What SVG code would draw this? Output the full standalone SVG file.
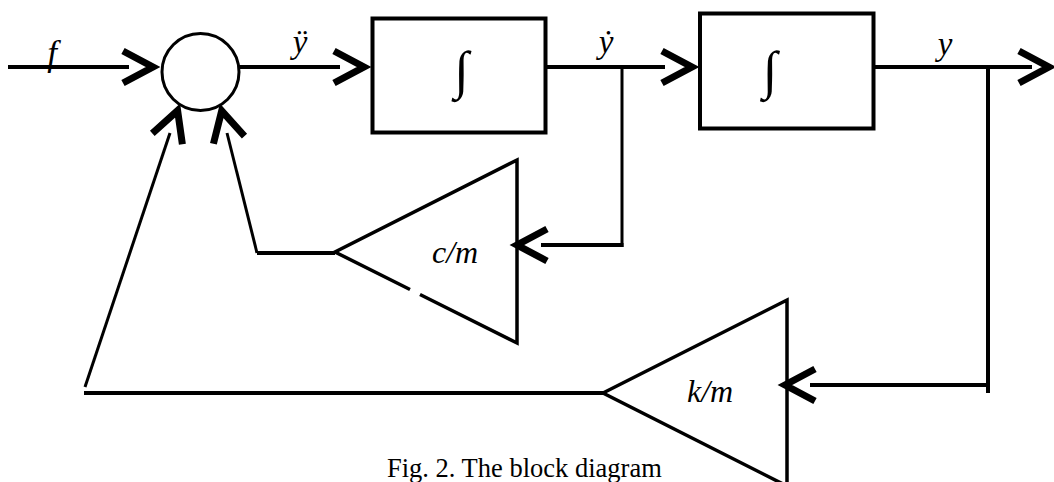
<svg xmlns="http://www.w3.org/2000/svg" width="1054" height="482" viewBox="0 0 1054 482">
<style>
.ln{stroke:#000;stroke-width:4;fill:none;stroke-linecap:butt}
.tn{stroke:#000;stroke-width:3;fill:none}
.blk{stroke:#000;stroke-width:4;fill:#fff}
.tri{stroke:#000;stroke-width:3.5;fill:none;stroke-linejoin:miter}
.lab{font-family:"Liberation Serif","Times New Roman",serif;font-style:italic;fill:#000}
.int{font-family:"Liberation Serif","Times New Roman",serif;fill:#000}
.cap{font-family:"Liberation Serif","Times New Roman",serif;fill:#000;font-size:26.5px}
</style>
<defs>
<path id="chev" d="M-37,-16 L-7,0 L-37,16" fill="none" stroke="#000" stroke-width="7" stroke-linejoin="miter" stroke-linecap="butt"/>
</defs>
<rect width="1054" height="482" fill="#fff"/>
<g id="connectors">
<line class="ln" x1="8" y1="67" x2="129" y2="67"/>
<line class="ln" x1="239" y1="67" x2="340" y2="67"/>
<line class="ln" x1="547" y1="67" x2="665" y2="67"/>
<line class="ln" x1="873" y1="67" x2="1032" y2="67"/>
<line class="tn" x1="622" y1="67" x2="622" y2="247"/>
<line class="ln" x1="541" y1="245" x2="623.5" y2="245"/>
<line class="ln" x1="988" y1="67" x2="988" y2="393"/>
<line class="ln" x1="810" y1="385" x2="990" y2="385"/>
<line class="tn" x1="170" y1="133" x2="85" y2="387"/>
<line class="ln" x1="84" y1="393" x2="603" y2="393"/>
<line class="tn" x1="227" y1="133" x2="257" y2="253"/>
<line class="ln" x1="257" y1="253" x2="335" y2="253"/>
<use href="#chev" transform="translate(160,67)"/>
<use href="#chev" transform="translate(371,67)"/>
<use href="#chev" transform="translate(699,67)"/>
<use href="#chev" transform="translate(1056,67)"/>
<use href="#chev" transform="translate(510,245) rotate(180)"/>
<use href="#chev" transform="translate(778,385) rotate(180)"/>
<use href="#chev" transform="translate(180,104) rotate(-70)"/>
<use href="#chev" transform="translate(220,104) rotate(-104)"/>
</g>
<g id="sum">
<circle cx="200.5" cy="72" r="38.5" fill="none" stroke="#000" stroke-width="3"/>
</g>
<g id="int1">
<rect class="blk" x="372.5" y="18.5" width="173" height="114"/>
<text class="int" x="461.5" y="88" font-size="53" text-anchor="middle">∫</text>
</g>
<g id="int2">
<rect class="blk" x="700" y="13.5" width="173.5" height="115"/>
<text class="int" x="770" y="88" font-size="53" text-anchor="middle">∫</text>
</g>
<g id="gain_c">
<path class="tri" d="M410,289.5 L335,252 L517,160 L517,343 L420,294.5"/>
<text class="lab" x="432" y="263" font-size="32">c/m</text>
</g>
<g id="gain_k">
<path class="tri" d="M603,393 L787,300 L787,486 Z"/>
<text class="lab" x="687" y="402" font-size="32">k/m</text>
</g>
<g id="labels">
<text class="lab" x="52" y="65" font-size="35" text-anchor="middle">f</text>
<text class="lab" x="300" y="53" font-size="33" text-anchor="middle">ÿ</text>
<text class="lab" x="606" y="53" font-size="33" text-anchor="middle">ẏ</text>
<text class="lab" x="945" y="55" font-size="33" text-anchor="middle">y</text>
<text class="cap" x="387" y="477">Fig. 2. The block diagram</text>
</g>
</svg>
